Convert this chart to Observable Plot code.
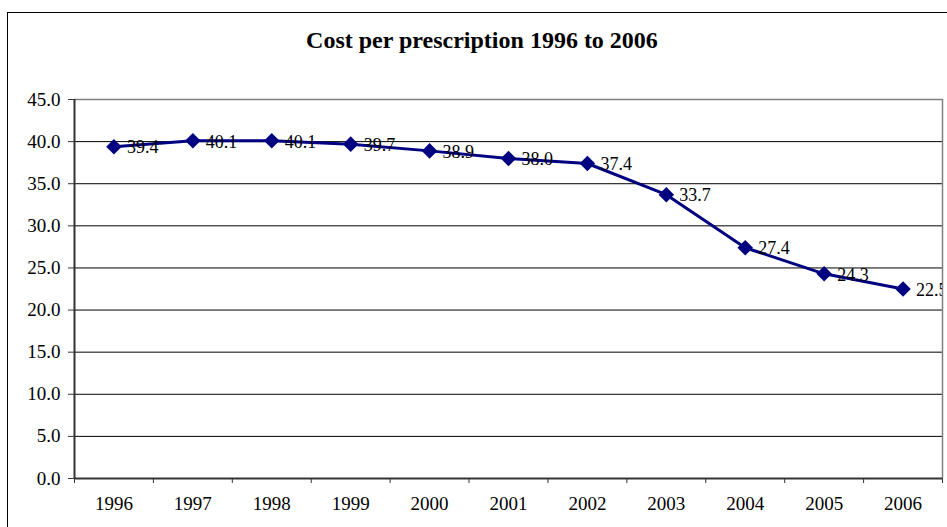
<!DOCTYPE html>
<html>
<head>
<meta charset="utf-8">
<script src="https://cdn.jsdelivr.net/npm/d3@7"></script>
<script src="https://cdn.jsdelivr.net/npm/@observablehq/plot@0.6"></script>
<style>
  body { margin: 0; background: #fff; overflow: hidden; width: 947px; height: 527px; position: relative;
         font-family: "Liberation Serif", "Times New Roman", serif; }
  #frame { position: absolute; left: 7px; top: 12px; width: 1000px; height: 600px; border: 1px solid #000; box-sizing: border-box; }
  #title { position: absolute; left: 7px; width: 950px; top: 27px; line-height: 27px; text-align: center;
           font-weight: bold; font-size: 24px; color: #000; }
  #chart { position: absolute; left: 0; top: 80px; width: 947px; }
</style>
</head>
<body>
<div id="frame"></div>
<div id="title">Cost per prescription 1996 to 2006</div>
<div id="chart"></div>
<script>
// Average cost per prescription, by year
const years = [1996, 1997, 1998, 1999, 2000, 2001, 2002, 2003, 2004, 2005, 2006];
const costs = [39.4, 40.1, 40.1, 39.7, 38.9, 38.0, 37.4, 33.7, 27.4, 24.3, 22.5];
const yTicks = [0, 5, 10, 15, 20, 25, 30, 35, 40, 45];

const data = years.map((year, i) => ({year, cost: costs[i]}));

// category edges, where the x-axis tick marks sit
const edges = years.map(y => y - 0.5).concat([years[years.length - 1] + 0.5]);
const xDomain = [edges[0], edges[edges.length - 1]];
const yDomain = [yTicks[0], yTicks[yTicks.length - 1]];

const navy = "#000080";

const chart = Plot.plot({
  width: 947,
  height: 447,
  marginLeft: 74,
  marginRight: 5,
  marginTop: 19,
  marginBottom: 49,
  style: {fontFamily: "'Liberation Serif', 'Times New Roman', serif", fontSize: "18px", color: "#000", background: "transparent"},
  x: {type: "linear", domain: xDomain},
  y: {domain: yDomain},
  marks: [
    Plot.gridY(yTicks.slice(1, -1), {stroke: "#000", strokeOpacity: 1, strokeWidth: 1}),
    Plot.ruleY([yDomain[1]], {stroke: "#808080", strokeWidth: 1.5}),
    Plot.ruleX([xDomain[1]], {stroke: "#808080", strokeWidth: 1.5}),
    Plot.ruleX([xDomain[0]], {stroke: "#333", strokeWidth: 2}),
    Plot.ruleY([yDomain[0]], {stroke: "#333", strokeWidth: 2}),
    Plot.axisY({ticks: yTicks, tickSize: 6, tickPadding: 8, tickFormat: d => d.toFixed(1), label: null, stroke: "#333", fontSize: 19}),
    Plot.axisX({ticks: edges, tickSize: 5, tickFormat: () => "", label: null, stroke: "#333"}),
    Plot.axisX({ticks: years, tickSize: 0, tickPadding: 18, tickFormat: d => String(d), label: null, fontSize: 19}),
    Plot.line(data, {x: "year", y: "cost", stroke: navy, strokeWidth: 3}),
    Plot.dot(data, {x: "year", y: "cost", symbol: "diamond2", r: 7, fill: navy, stroke: "none"}),
    Plot.text(data, {x: "year", y: "cost", text: d => d.cost.toFixed(1), dx: 13, dy: 1, textAnchor: "start",
                     fontSize: 18, fill: "#000", clip: "frame"})
  ]
});
document.getElementById("chart").append(chart);
</script>
</body>
</html>
